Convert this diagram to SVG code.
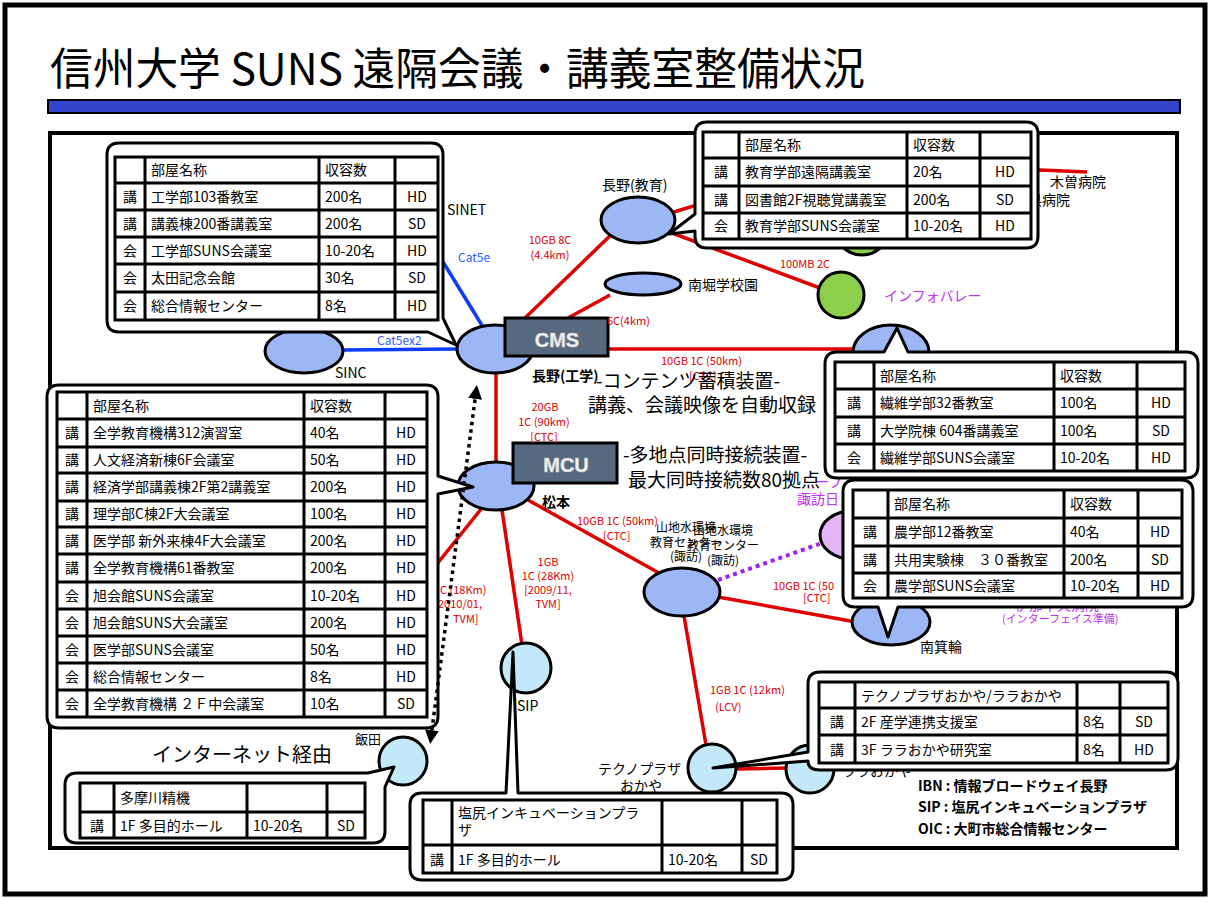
<svg xmlns="http://www.w3.org/2000/svg" width="1210" height="898" viewBox="0 0 1210 898">
<defs>
<style>
text{font-family:"Noto Sans CJK JP","Noto Sans",sans-serif;fill:#000}
.t{font-size:14px}
.c{text-anchor:middle}
.b{font-weight:bold}
.r{font-size:11px;fill:#e00000}
.rc{font-size:11px;fill:#e00000;text-anchor:middle}
.bl{font-size:12px;fill:#2a5cff}
.pu{fill:#c030f0}
.red{stroke:#e00000;stroke-width:3.5;fill:none}
.blu{stroke:#0a3cff;stroke-width:3.5;fill:none}
.nb{fill:#9cb6f6;stroke:#000;stroke-width:3}
.nc{fill:#c2e8f9;stroke:#000;stroke-width:3}
.ng{fill:#8bcf4a;stroke:#000;stroke-width:3}
.np{fill:#e3b5f7;stroke:#000;stroke-width:3}
.box{fill:#57697f;stroke:#000;stroke-width:3}
.bt{font-family:"Liberation Sans",sans-serif;font-size:20px;font-weight:bold;fill:#f4f4f4;text-anchor:middle;stroke:#c8c8c8;stroke-width:0.6}
.cb{fill:#fff;stroke:#000;stroke-width:3;stroke-linejoin:round}
.tb{fill:none;stroke:#000;stroke-width:3}
.big{font-size:19px}
</style>
<marker id="ah" viewBox="0 0 10 10" refX="5" refY="5" markerWidth="4" markerHeight="4" orient="auto-start-reverse" markerUnits="strokeWidth">
<path d="M0,0 L10,5 L0,10 Z" fill="#000"/>
</marker>
</defs>
<rect width="1210" height="898" fill="#fff"/>
<g id="page">
<rect x="5" y="5" width="1200" height="889" fill="none" stroke="#000" stroke-width="5"/>
<text x="50" y="85" font-size="44" textLength="815" lengthAdjust="spacingAndGlyphs">信州大学 SUNS 遠隔会議・講義室整備状況</text>
<rect x="48" y="100" width="1132" height="13" fill="#3344cc" stroke="#000" stroke-width="2"/>
<rect x="50" y="133" width="1127" height="715" fill="none" stroke="#000" stroke-width="4"/>
</g>
<g id="connectors">
<line class="blu" x1="440" y1="257" x2="483" y2="327"/>
<line class="blu" x1="343" y1="350" x2="458" y2="349"/>
<line class="red" x1="525" y1="318" x2="615" y2="231"/>
<line class="red" x1="568" y1="318" x2="610" y2="295"/>
<line class="red" x1="608" y1="349" x2="855" y2="349"/>
<polyline class="red" points="674,212 700,204 1040,170 1087,172"/>
<line class="red" x1="672" y1="233" x2="820" y2="288"/>
<line class="red" x1="496" y1="372" x2="496" y2="463"/>
<line class="red" x1="482" y1="508" x2="400" y2="610"/>
<line class="red" x1="502" y1="510" x2="522" y2="645"/>
<line class="red" x1="528" y1="500" x2="668" y2="578"/>
<line class="red" x1="718" y1="597" x2="856" y2="622"/>
<line class="red" x1="684" y1="616" x2="706" y2="745"/>
<line class="red" x1="736" y1="769" x2="787" y2="768"/>
<line x1="718" y1="580" x2="822" y2="543" stroke="#a020f0" stroke-width="4" stroke-dasharray="4 4"/>
</g>
<g id="n-nagano-kogaku"><ellipse class="nb" cx="495" cy="349" rx="38" ry="24"/></g>
<g id="n-cms"><rect class="box" x="505" y="318" width="103" height="38"/><text class="bt" x="557" y="347">CMS</text></g>
<g id="n-sinc"><ellipse class="nb" cx="304" cy="351" rx="39" ry="22"/></g>
<g id="n-nagano-kyoiku"><ellipse class="nb" cx="638" cy="220" rx="37" ry="23"/></g>
<g id="n-minamihori"><ellipse class="nb" cx="643" cy="284" rx="38" ry="11"/></g>
<g id="n-green1"><circle class="ng" cx="862" cy="228" r="27"/></g>
<g id="n-infovalley"><circle class="ng" cx="841" cy="295" r="23"/></g>
<g id="n-ueda"><ellipse class="nb" cx="891" cy="352" rx="38" ry="27"/></g>
<g id="n-matsumoto"><ellipse class="nb" cx="496" cy="486" rx="38" ry="24"/></g>
<g id="n-mcu"><rect class="box" x="513" y="443" width="104" height="40"/><text class="bt" x="566" y="472">MCU</text></g>
<g id="n-suwa"><ellipse class="nb" cx="682" cy="592" rx="38" ry="24"/></g>
<g id="n-suwa-red"><ellipse class="np" cx="852" cy="535" rx="32" ry="24"/></g>
<g id="n-minowa"><ellipse class="nb" cx="891" cy="622" rx="39" ry="23"/></g>
<g id="n-sip"><circle class="nc" cx="526" cy="668" r="25"/></g>
<g id="n-iida"><circle class="nc" cx="403" cy="761" r="24"/></g>
<g id="n-techno"><circle class="nc" cx="712" cy="768" r="24"/></g>
<g id="n-lala"><circle class="nc" cx="810" cy="769" r="24"/></g>
<g id="labels">
<text class="t" x="447" y="215">SINET</text>
<text class="bl" x="458" y="262">Cat5e</text>
<text class="bl" x="377" y="345">Cat5ex2</text>
<text class="t" x="335" y="378">SINC</text>
<text class="t b" x="532" y="381">長野(工学)</text>
<text class="t" x="602" y="190">長野(教育)</text>
<text class="t" x="688" y="290">南堀学校園</text>
<text class="t pu" x="884" y="301">インフォバレー</text>
<text class="t" x="1050" y="187">木曽病院</text>
<text class="t" x="1028" y="205">県病院</text>
<text class="rc" x="550" y="244">10GB 8C</text>
<text class="rc" x="550" y="259">(4.4km)</text>
<text class="r" x="607" y="325">6C(4km)</text>
<text class="r" x="780" y="268">100MB 2C</text>
<text class="r" x="661" y="365">10GB 1C (50km)</text>
<text class="r" x="689" y="380">[CTC]</text>
<text class="rc" x="545" y="411">20GB</text>
<text class="rc" x="544" y="426">1C (90km)</text>
<text class="rc" x="544" y="441">[CTC]</text>
<text class="r" x="577" y="525">10GB 1C (50km)</text>
<text class="r" x="603" y="540">[CTC]</text>
<text class="rc" x="548" y="566">1GB</text>
<text class="rc" x="548" y="580">1C (28Km)</text>
<text class="rc" x="548" y="594">[2009/11,</text>
<text class="rc" x="548" y="608">TVM]</text>
<text class="r" x="440" y="594">C (18Km)</text>
<text class="r" x="438" y="608">2010/01,</text>
<text class="r" x="453" y="623">TVM]</text>
<text class="r" x="773" y="590">10GB 1C (50</text>
<text class="r" x="803" y="602">[CTC]</text>
<text class="r" x="710" y="694">1GB 1C (12km)</text>
<text class="r" x="715" y="711">(LCV)</text>
<text class="t b" x="542" y="507">松本</text>
<text class="t" x="920" y="652">南箕輪</text>
<text class="t" x="517" y="711">SIP</text>
<text x="355" y="744" font-size="13">飯田</text>
<text class="t" x="598" y="774">テクノプラザ</text>
<text class="t" x="620" y="791">おかや</text>
<text class="t" x="842" y="776">ララおかや</text>
<text x="686" y="532" font-size="12" class="c">山地水環境</text>
<text x="686" y="547" font-size="12" class="c">教育センター</text>
<text x="686" y="561" font-size="12" class="c">(諏訪)</text>
<text x="723" y="535" font-size="12" class="c">山地水環境</text>
<text x="723" y="550" font-size="12" class="c">教育センター</text>
<text x="723" y="565" font-size="12" class="c">(諏訪)</text>
<text class="t pu" x="815" y="487">ーフ</text>
<text class="t pu" x="797" y="504">諏訪日</text>
<text class="t pu" x="1015" y="610">伊那中央病院</text>
<text class="pu" x="1002" y="623" font-size="11">(インターフェイス準備)</text>
<text class="big" x="596" y="388">-コンテンツ蓄積装置-</text>
<text class="big" x="588" y="412">講義、会議映像を自動収録</text>
<text class="big" x="623" y="462">-多地点同時接続装置-</text>
<text class="big" x="628" y="487">最大同時接続数80拠点</text>
<text x="152" y="762" font-size="20">インターネット経由</text>
<text class="t b" x="918" y="791">IBN : 情報ブロードウェイ長野</text>
<text class="t b" x="918" y="812">SIP : 塩尻インキュベーションプラザ</text>
<text class="t b" x="918" y="834">OIC : 大町市総合情報センター</text>
</g>
<g id="callout-kogaku">
<path class="cb" d="M119,143 H431 Q443,143 443,155 V318 L456,345 L428,332 H119 Q107,332 107,320 V155 Q107,143 119,143 Z"/>
<rect class="tb" x="115" y="157" width="323" height="163"/>
<path class="tb" d="M115,183H438M115,210H438M115,237H438M115,264H438M115,292H438M145,157V320M319,157V320M395,157V320"/>
<g class="t">
<text x="151" y="175">部屋名称</text><text x="325" y="175">収容数</text>
<text class="c" x="130" y="202">講</text><text x="151" y="202">工学部103番教室</text><text x="325" y="202">200名</text><text class="c" x="417" y="202">HD</text>
<text class="c" x="130" y="229">講</text><text x="151" y="229">講義棟200番講義室</text><text x="325" y="229">200名</text><text class="c" x="417" y="229">SD</text>
<text class="c" x="130" y="256">会</text><text x="151" y="256">工学部SUNS会議室</text><text x="325" y="256">10-20名</text><text class="c" x="417" y="256">HD</text>
<text class="c" x="130" y="283">会</text><text x="151" y="283">太田記念会館</text><text x="325" y="283">30名</text><text class="c" x="417" y="283">SD</text>
<text class="c" x="130" y="311">会</text><text x="151" y="311">総合情報センター</text><text x="325" y="311">8名</text><text class="c" x="417" y="311">HD</text>
</g>
</g>
<g id="callout-kyoiku">
<path class="cb" d="M707,122 H1026 Q1038,122 1038,134 V236 Q1038,248 1026,248 H707 Q695,248 695,236 V231 L669,234 L695,214 V134 Q695,122 707,122 Z"/>
<rect class="tb" x="703" y="132" width="328" height="107"/>
<path class="tb" d="M703,158H1031M703,186H1031M703,213H1031M739,132V239M907,132V239M980,132V239"/>
<g class="t">
<text x="745" y="150">部屋名称</text><text x="913" y="150">収容数</text>
<text class="c" x="721" y="177">講</text><text x="745" y="177">教育学部遠隔講義室</text><text x="913" y="177">20名</text><text class="c" x="1005" y="177">HD</text>
<text class="c" x="721" y="205">講</text><text x="745" y="205">図書館2F視聴覚講義室</text><text x="913" y="205">200名</text><text class="c" x="1005" y="205">SD</text>
<text class="c" x="721" y="231">会</text><text x="745" y="231">教育学部SUNS会議室</text><text x="913" y="231">10-20名</text><text class="c" x="1005" y="231">HD</text>
</g>
</g>
<g id="callout-ueda">
<path class="cb" d="M837,352 H884 L897,328 L908,352 H1186 Q1198,352 1198,364 V466 Q1198,478 1186,478 H837 Q825,478 825,466 V364 Q825,352 837,352 Z"/>
<rect class="tb" x="835" y="362" width="350" height="109"/>
<path class="tb" d="M835,389H1185M835,417H1185M835,444H1185M874,362V471M1054,362V471M1137,362V471"/>
<g class="t">
<text x="880" y="381">部屋名称</text><text x="1060" y="381">収容数</text>
<text class="c" x="854" y="408">講</text><text x="880" y="408">繊維学部32番教室</text><text x="1060" y="408">100名</text><text class="c" x="1161" y="408">HD</text>
<text class="c" x="854" y="436">講</text><text x="880" y="436">大学院棟 604番講義室</text><text x="1060" y="436">100名</text><text class="c" x="1161" y="436">SD</text>
<text class="c" x="854" y="463">会</text><text x="880" y="463">繊維学部SUNS会議室</text><text x="1060" y="463">10-20名</text><text class="c" x="1161" y="463">HD</text>
</g>
</g>
<g id="callout-minowa">
<path class="cb" d="M855,480 H1181 Q1193,480 1193,492 V595 Q1193,607 1181,607 H898 L888,637 L878,607 H855 Q843,607 843,595 V492 Q843,480 855,480 Z"/>
<rect class="tb" x="853" y="490" width="329" height="108"/>
<path class="tb" d="M853,518H1182M853,546H1182M853,573H1182M888,490V598M1064,490V598M1138,490V598"/>
<g class="t">
<text x="894" y="509">部屋名称</text><text x="1070" y="509">収容数</text>
<text class="c" x="870" y="537">講</text><text x="894" y="537">農学部12番教室</text><text x="1070" y="537">40名</text><text class="c" x="1160" y="537">HD</text>
<text class="c" x="870" y="565">講</text><text x="894" y="565">共用実験棟　３０番教室</text><text x="1070" y="565">200名</text><text class="c" x="1160" y="565">SD</text>
<text class="c" x="870" y="591">会</text><text x="894" y="591">農学部SUNS会議室</text><text x="1070" y="591">10-20名</text><text class="c" x="1160" y="591">HD</text>
</g>
</g>
<g id="callout-matsumoto">
<path class="cb" d="M59,385 H426 Q438,385 438,397 V476 L473,487 L438,494 V716 Q438,728 426,728 H59 Q47,728 47,716 V397 Q47,385 59,385 Z"/>
<rect class="tb" x="57" y="392" width="370" height="325"/>
<path class="tb" d="M57,419H427M57,447H427M57,473H427M57,501H427M57,527H427M57,554H427M57,582H427M57,609H427M57,636H427M57,663H427M57,690H427M87,392V717M304,392V717M385,392V717"/>
<g class="t">
<text x="93" y="411">部屋名称</text><text x="310" y="411">収容数</text>
<text class="c" x="72" y="438">講</text><text x="93" y="438">全学教育機構312演習室</text><text x="310" y="438">40名</text><text class="c" x="406" y="438">HD</text>
<text class="c" x="72" y="465">講</text><text x="93" y="465">人文経済新棟6F会議室</text><text x="310" y="465">50名</text><text class="c" x="406" y="465">HD</text>
<text class="c" x="72" y="492">講</text><text x="93" y="492">経済学部講義棟2F第2講義室</text><text x="310" y="492">200名</text><text class="c" x="406" y="492">HD</text>
<text class="c" x="72" y="519">講</text><text x="93" y="519">理学部C棟2F大会議室</text><text x="310" y="519">100名</text><text class="c" x="406" y="519">HD</text>
<text class="c" x="72" y="546">講</text><text x="93" y="546">医学部 新外来棟4F大会議室</text><text x="310" y="546">200名</text><text class="c" x="406" y="546">HD</text>
<text class="c" x="72" y="573">講</text><text x="93" y="573">全学教育機構61番教室</text><text x="310" y="573">200名</text><text class="c" x="406" y="573">HD</text>
<text class="c" x="72" y="601">会</text><text x="93" y="601">旭会館SUNS会議室</text><text x="310" y="601">10-20名</text><text class="c" x="406" y="601">HD</text>
<text class="c" x="72" y="628">会</text><text x="93" y="628">旭会館SUNS大会議室</text><text x="310" y="628">200名</text><text class="c" x="406" y="628">HD</text>
<text class="c" x="72" y="655">会</text><text x="93" y="655">医学部SUNS会議室</text><text x="310" y="655">50名</text><text class="c" x="406" y="655">HD</text>
<text class="c" x="72" y="682">会</text><text x="93" y="682">総合情報センター</text><text x="310" y="682">8名</text><text class="c" x="406" y="682">HD</text>
<text class="c" x="72" y="709">会</text><text x="93" y="709">全学教育機構 ２Ｆ中会議室</text><text x="310" y="709">10名</text><text class="c" x="406" y="709">SD</text>
</g>
</g>
<g id="callout-tamagawa">
<path class="cb" d="M77,773 H368 L394,767 L385,787 V831 Q385,843 373,843 H77 Q65,843 65,831 V785 Q65,773 77,773 Z"/>
<rect class="tb" x="80" y="783" width="285" height="55"/>
<path class="tb" d="M80,812H365M114,783V838M247,783V838M327,783V838"/>
<g class="t">
<text x="120" y="803">多摩川精機</text>
<text class="c" x="97" y="831">講</text><text x="120" y="831">1F 多目的ホール</text><text x="253" y="831">10-20名</text><text class="c" x="346" y="831">SD</text>
</g>
</g>
<g id="callout-sip">
<path class="cb" d="M422,793 H506 L513,652 L518,793 H781 Q793,793 793,805 V868 Q793,880 781,880 H422 Q410,880 410,868 V805 Q410,793 422,793 Z"/>
<rect class="tb" x="423" y="800" width="354" height="73"/>
<path class="tb" d="M423,845H777M452,800V873M662,800V873M742,800V873"/>
<g class="t">
<text x="458" y="818">塩尻インキュベーションプラ</text>
<text x="458" y="835">ザ</text>
<text class="c" x="437" y="865">講</text><text x="458" y="865">1F 多目的ホール</text><text x="668" y="865">10-20名</text><text class="c" x="759" y="865">SD</text>
</g>
</g>
<g id="callout-techno">
<path class="cb" d="M820,672 H1166 Q1178,672 1178,684 V758 Q1178,770 1166,770 H820 Q808,770 808,761 L713,768 L808,752 V684 Q808,672 820,672 Z"/>
<rect class="tb" x="819" y="682" width="349" height="81"/>
<path class="tb" d="M819,708H1168M819,735H1168M855,682V763M1077,682V763M1120,682V763"/>
<g class="t">
<text x="861" y="701">テクノプラザおかや/ララおかや</text>
<text class="c" x="837" y="727">講</text><text x="861" y="727">2F 産学連携支援室</text><text x="1083" y="727">8名</text><text class="c" x="1144" y="727">SD</text>
<text class="c" x="837" y="755">講</text><text x="861" y="755">3F ララおかや研究室</text><text x="1083" y="755">8名</text><text class="c" x="1144" y="755">HD</text>
</g>
</g>
<g id="connector-internet">
<line x1="476" y1="392" x2="431" y2="737" stroke="#000" stroke-width="3.5" stroke-dasharray="3.5 4" marker-start="url(#ah)" marker-end="url(#ah)"/>
</g>
</svg>
